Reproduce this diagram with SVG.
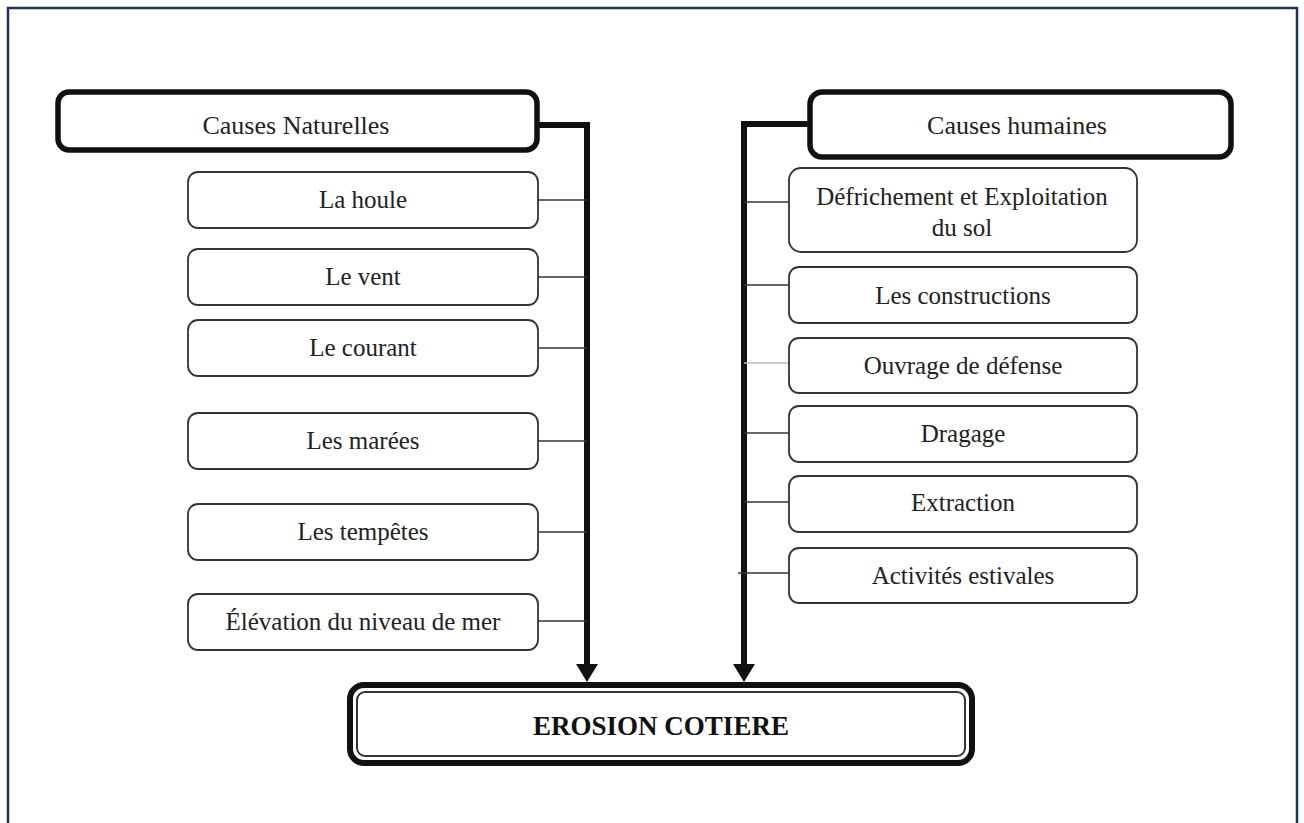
<svg xmlns="http://www.w3.org/2000/svg" width="1304" height="823" viewBox="0 0 1304 823">
<defs>
<style>
text{font-family:"Liberation Serif","Times New Roman",serif;fill:#222;text-anchor:middle;}
.lbl{font-size:25px;}
.hd{font-size:26px;}
.main{font-size:27px;font-weight:bold;fill:#111;}
.box{fill:#fff;stroke:#333;stroke-width:1.8;}
.head{fill:#fff;stroke:#111;stroke-width:5.5;}
.trunk{fill:none;stroke:#111;stroke-width:6;}
.twig{stroke:#333;stroke-width:1.6;}
</style>
</defs>
<rect width="1304" height="823" fill="#fff"/>
<path d="M8,830 V8 H1297 V830" fill="none" stroke="#1c355e" stroke-width="2.5"/>

<g id="connectors">
<path class="trunk" d="M537,125 H587 V666"/>
<path d="M576,664 L598,664 L587,682 Z" fill="#111"/>
<path class="trunk" d="M809,124 H744 V666"/>
<path d="M733,664 L755,664 L744,682 Z" fill="#111"/>
<line class="twig" x1="538" y1="200" x2="587" y2="200"/>
<line class="twig" x1="538" y1="277" x2="587" y2="277"/>
<line class="twig" x1="538" y1="348" x2="587" y2="348"/>
<line class="twig" x1="538" y1="441" x2="587" y2="441"/>
<line class="twig" x1="538" y1="532" x2="587" y2="532"/>
<line class="twig" x1="538" y1="621" x2="587" y2="621"/>
<line class="twig" x1="744" y1="202" x2="789" y2="202"/>
<line class="twig" x1="744" y1="285" x2="789" y2="285"/>
<line x1="744" y1="363" x2="789" y2="363" stroke="#bbb" stroke-width="1.4"/>
<line class="twig" x1="744" y1="433" x2="789" y2="433"/>
<line class="twig" x1="744" y1="502" x2="789" y2="502"/>
<line class="twig" x1="738" y1="573" x2="789" y2="573"/>
</g>

<g id="causes-naturelles">
<rect class="head" x="58" y="92" width="479" height="58" rx="11"/>
<text class="hd" x="296" y="134">Causes Naturelles</text>
</g>
<g id="causes-humaines">
<rect class="head" x="810" y="92" width="421" height="65" rx="12"/>
<text class="hd" x="1017" y="134">Causes humaines</text>
</g>

<g id="la-houle"><rect class="box" x="188" y="172" width="350" height="56" rx="10"/><text class="lbl" x="363" y="208">La houle</text></g>
<g id="le-vent"><rect class="box" x="188" y="249" width="350" height="56" rx="10"/><text class="lbl" x="363" y="285">Le vent</text></g>
<g id="le-courant"><rect class="box" x="188" y="320" width="350" height="56" rx="10"/><text class="lbl" x="363" y="356">Le courant</text></g>
<g id="les-marees"><rect class="box" x="188" y="413" width="350" height="56" rx="10"/><text class="lbl" x="363" y="449">Les marées</text></g>
<g id="les-tempetes"><rect class="box" x="188" y="504" width="350" height="56" rx="10"/><text class="lbl" x="363" y="540">Les tempêtes</text></g>
<g id="elevation"><rect class="box" x="188" y="594" width="350" height="56" rx="10"/><text class="lbl" x="363" y="630">Élévation du niveau de mer</text></g>

<g id="defrichement"><rect class="box" x="789" y="168" width="348" height="84" rx="12"/><text class="lbl" x="962" y="205">Défrichement et Exploitation</text><text class="lbl" x="962" y="236">du sol</text></g>
<g id="constructions"><rect class="box" x="789" y="267" width="348" height="56" rx="10"/><text class="lbl" x="963" y="304">Les constructions</text></g>
<g id="ouvrage"><rect class="box" x="789" y="338" width="348" height="55" rx="10"/><text class="lbl" x="963" y="374">Ouvrage de défense</text></g>
<g id="dragage"><rect class="box" x="789" y="406" width="348" height="56" rx="10"/><text class="lbl" x="963" y="442">Dragage</text></g>
<g id="extraction"><rect class="box" x="789" y="476" width="348" height="56" rx="10"/><text class="lbl" x="963" y="511">Extraction</text></g>
<g id="activites"><rect class="box" x="789" y="548" width="348" height="55" rx="10"/><text class="lbl" x="963" y="584">Activités estivales</text></g>

<g id="erosion-cotiere">
<rect x="350" y="685" width="622" height="78" rx="14" fill="#fff" stroke="#111" stroke-width="6"/>
<rect x="357" y="692" width="608" height="64" rx="8" fill="none" stroke="#333" stroke-width="2"/>
<text class="main" x="661" y="735">EROSION COTIERE</text>
</g>
</svg>
